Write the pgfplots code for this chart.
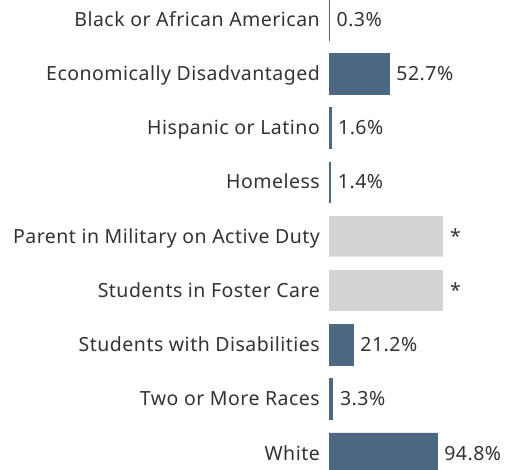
\documentclass[border=0pt]{standalone}
\usepackage{pgfplots}
\pgfplotsset{compat=1.18}
\usepackage{fontspec}
\setmainfont{Noto Sans}
\newfontfamily\lab[LetterSpace=2.5]{Noto Sans}
\definecolor{barblue}{HTML}{4E6882}
\definecolor{bargray}{HTML}{D3D3D3}
\definecolor{txt}{HTML}{333333}
\begin{document}
\begin{tikzpicture}
\path[use as bounding box] (0,0) rectangle (506bp,470bp);
\begin{axis}[
  at={(329bp,0bp)}, anchor=south west,
  scale only axis, width=177bp, height=470bp,
  xmin=0, xmax=155.3,
  ymin=-0.36, ymax=8.31, y dir=reverse,
  axis line style={draw=none}, major tick length=0pt,
  xtick=\empty,
  ytick={0,...,8},
  yticklabels={Black or African American, Economically Disadvantaged, Hispanic or Latino, Homeless, Parent in Military on Active Duty, Students in Foster Care, Students with Disabilities, Two or More Races, White},
  yticklabel style={font=\lab\fontsize{19.5bp}{21bp}\selectfont, text=txt, inner sep=0pt, anchor=base east, xshift=-9bp, yshift=-6.8bp},
  xbar, bar shift=0pt, bar width=0.75,
  nodes near coords, point meta=explicit symbolic,
  nodes near coords style={font=\lab\fontsize{19.5bp}{21bp}\selectfont, text=txt, anchor=base west, inner sep=0pt, xshift=7bp, yshift=-6.8bp},
]
\addplot[fill=barblue, draw=barblue, line width=0.6bp] coordinates {(0.3,0)[0.3\%] (52.7,1)[52.7\%] (1.6,2)[1.6\%] (1.4,3)[1.4\%] (21.2,6)[21.2\%] (3.3,7)[3.3\%] (94.8,8)[94.8\%]};
\addplot[fill=bargray, draw=none] coordinates {(100,4)[*] (100,5)[*]};
\end{axis}
\end{tikzpicture}
\end{document}
